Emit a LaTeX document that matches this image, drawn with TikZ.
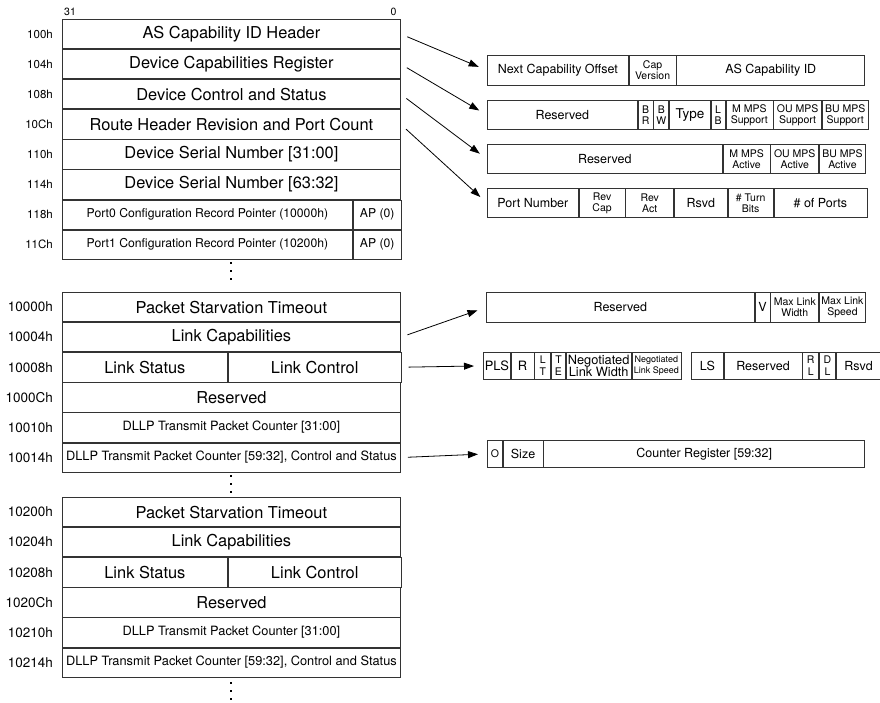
\documentclass[tikz,border=0pt]{standalone}
\usepackage{fontspec}
\setmainfont{TeX Gyre Heros}
\usetikzlibrary{positioning,arrows.meta}

\begin{document}
\begin{tikzpicture}[x=1pt, y=-1pt,
field/.style={rectangle, draw=black!80, line width=0.8pt, anchor=north west, inner sep=0pt, align=center, minimum width=338pt, minimum height=29.3pt, font=\fontsize{16.4}{18}\selectfont},
smallfield/.style={field, font=\fontsize{12.2}{14}\selectfont},
dllpfield/.style={field, font=\fontsize{12.8}{14}\selectfont},
addr/.style={inner sep=0pt, font=\fontsize{13.5}{15}\selectfont},
regbit/.style={rectangle, draw=black!80, line width=0.7pt, anchor=north west, inner sep=0pt, align=center, minimum height=29.5pt, font=\fontsize{12.5}{13}\selectfont},
tinybit/.style={regbit, font=\fontsize{10.5}{11.5}\selectfont},
arr/.style={-{Triangle[length=10pt, width=7pt]}, line width=0.8pt, shorten <=7pt, shorten >=9pt},
]
    \useasboundingbox (0,0) rectangle (880,703);

    % capability header block
    \node[font=\fontsize{10.5}{12}\selectfont, inner sep=0pt] (msb) at (70,11.5) {31};
    \node[font=\fontsize{10.5}{12}\selectfont, inner sep=0pt] (lsb) at (393.5,11.5) {0};
    \node[field] (r100) at (62,19) {AS Capability ID Header};
    \node[field] (r104) at (r100.south west) {Device Capabilities Register};
    \node[field] (r108) at (r104.south west) {Device Control and Status};
    \node[field] (r10c) at (r108.south west) {Route Header Revision and Port Count};
    \node[field] (r110) at (r10c.south west) {Device Serial Number [31:00]};
    \node[field] (r114) at (r110.south west) {Device Serial Number [63:32]};
    \node[smallfield, minimum width=290pt] (r118) at (r114.south west) {Port0 Configuration Record Pointer (10000h)};
    \node[smallfield, minimum width=48pt] (r118ap) at (r118.north east) {AP (0)};
    \node[smallfield, minimum width=290pt] (r11c) at (r118.south west) {Port1 Configuration Record Pointer (10200h)};
    \node[smallfield, minimum width=48pt] (r11cap) at (r11c.north east) {AP (0)};
    \node[addr, font=\fontsize{11.5}{13}\selectfont, left=9pt of r100] (a100) {100h};
    \node[addr, font=\fontsize{11.5}{13}\selectfont, left=9pt of r104] (a104) {104h};
    \node[addr, font=\fontsize{11.5}{13}\selectfont, left=9pt of r108] (a108) {108h};
    \node[addr, font=\fontsize{11.5}{13}\selectfont, left=9pt of r10c] (a10c) {10Ch};
    \node[addr, font=\fontsize{11.5}{13}\selectfont, left=9pt of r110] (a110) {110h};
    \node[addr, font=\fontsize{11.5}{13}\selectfont, left=9pt of r114] (a114) {114h};
    \node[addr, font=\fontsize{11.5}{13}\selectfont, left=9pt of r118] (a118) {118h};
    \node[addr, font=\fontsize{11.5}{13}\selectfont, left=9pt of r11c] (a11c) {11Ch};

    % port0 configuration record
    \node[field] (p0timeout) at (62,292) {Packet Starvation Timeout};
    \node[field] (p0lcap) at (p0timeout.south west) {Link Capabilities};
    \node[field, minimum width=165pt] (p0lstat) at (p0lcap.south west) {Link Status};
    \node[field, minimum width=173pt] (p0lctrl) at (p0lstat.north east) {Link Control};
    \node[field] (p0rsvd) at (p0lstat.south west) {Reserved};
    \node[dllpfield] (p0cnt) at (p0rsvd.south west) {DLLP Transmit Packet Counter [31:00]};
    \node[dllpfield] (p0cntst) at (p0cnt.south west) {DLLP Transmit Packet Counter [59:32], Control and Status};
    \node[addr, left=9pt of p0timeout] (a10000) {10000h};
    \node[addr, left=9pt of p0lcap] (a10004) {10004h};
    \node[addr, left=9pt of p0lstat] (a10008) {10008h};
    \node[addr, left=9pt of p0rsvd] (a1000c) {1000Ch};
    \node[addr, left=9pt of p0cnt] (a10010) {10010h};
    \node[addr, left=9pt of p0cntst] (a10014) {10014h};

    % port1 configuration record
    \node[field] (p1timeout) at (62,497) {Packet Starvation Timeout};
    \node[field] (p1lcap) at (p1timeout.south west) {Link Capabilities};
    \node[field, minimum width=165pt] (p1lstat) at (p1lcap.south west) {Link Status};
    \node[field, minimum width=173pt] (p1lctrl) at (p1lstat.north east) {Link Control};
    \node[field] (p1rsvd) at (p1lstat.south west) {Reserved};
    \node[dllpfield] (p1cnt) at (p1rsvd.south west) {DLLP Transmit Packet Counter [31:00]};
    \node[dllpfield] (p1cntst) at (p1cnt.south west) {DLLP Transmit Packet Counter [59:32], Control and Status};
    \node[addr, left=9pt of p1timeout] (a10200) {10200h};
    \node[addr, left=9pt of p1lcap] (a10204) {10204h};
    \node[addr, left=9pt of p1lstat] (a10208) {10208h};
    \node[addr, left=9pt of p1rsvd] (a1020c) {1020Ch};
    \node[addr, left=9pt of p1cnt] (a10210) {10210h};
    \node[addr, left=9pt of p1cntst] (a10214) {10214h};

    % continuation dots
    \foreach \y in {263,271,279,476,484,492,683,691,699}
        \fill (229.8,\y-1.2) rectangle (232.2,\y+1.2);

    % capability ID header
    \node[regbit, minimum height=30pt, minimum width=141pt] (nextcap) at (487,55) {Next Capability Offset};
    \node[tinybit, minimum height=30pt, minimum width=47pt] (capver) at (nextcap.north east) {Cap\\Version};
    \node[regbit, minimum height=30pt, minimum width=188pt] (asid) at (capver.north east) {AS Capability ID};

    % device capabilities
    \node[regbit, minimum width=150pt] (rsv2) at (487,100) {Reserved};
    \node[tinybit, minimum width=15pt] (br) at (rsv2.north east) {B\\R};
    \node[tinybit, minimum width=15pt] (bw) at (br.north east) {B\\W};
    \node[regbit, minimum width=41pt, font=\fontsize{13.5}{14}\selectfont] (type) at (bw.north east) {Type};
    \node[tinybit, minimum width=14pt] (lb) at (type.north east) {L\\B};
    \node[tinybit, minimum width=47pt] (mmps) at (lb.north east) {M MPS\\Support};
    \node[tinybit, minimum width=48pt] (oumps) at (mmps.north east) {OU MPS\\Support};
    \node[tinybit, minimum width=46pt] (bumps) at (oumps.north east) {BU MPS\\Support};

    % device control and status
    \node[regbit, minimum width=235pt] (rsv3) at (487,144) {Reserved};
    \node[tinybit, minimum width=47pt] (mmpsa) at (rsv3.north east) {M MPS\\Active};
    \node[tinybit, minimum width=48pt] (oumpsa) at (mmpsa.north east) {OU MPS\\Active};
    \node[tinybit, minimum width=46pt] (bumpsa) at (oumpsa.north east) {BU MPS\\Active};

    % route header revision and port count
    \node[regbit, minimum width=91pt] (portnum) at (487,188) {Port Number};
    \node[tinybit, minimum width=46pt] (revcap) at (portnum.north east) {Rev\\Cap};
    \node[tinybit, minimum width=48pt] (revact) at (revcap.north east) {Rev\\Act};
    \node[regbit, minimum width=53pt] (rsvd4) at (revact.north east) {Rsvd};
    \node[tinybit, minimum width=45pt] (turnbits) at (rsvd4.north east) {\# Turn\\Bits};
    \node[regbit, minimum width=93pt] (nports) at (turnbits.north east) {\# of Ports};

    % link capabilities
    \node[regbit, minimum height=30pt, minimum width=268pt] (rsv5) at (486,292) {Reserved};
    \node[regbit, minimum height=30pt, minimum width=15pt] (vbit) at (rsv5.north east) {V};
    \node[tinybit, minimum height=30pt, minimum width=48pt] (mlw) at (vbit.north east) {Max Link\\Width};
    \node[tinybit, minimum height=30pt, minimum width=46pt] (mls) at (mlw.north east) {Max Link\\Speed};

    % link status and link control
    \node[regbit, minimum height=27pt, minimum width=27pt, font=\fontsize{12.9}{13}\selectfont] (pls) at (483,352) {PLS};
    \node[regbit, minimum height=27pt, minimum width=23pt, font=\fontsize{12.9}{13}\selectfont] (rbit) at (pls.north east) {R};
    \node[tinybit, minimum height=27pt, minimum width=16pt] (lt) at (rbit.north east) {L\\T};
    \node[tinybit, minimum height=27pt, minimum width=14pt] (te) at (lt.north east) {T\\E};
    \node[regbit, minimum height=27pt, minimum width=65pt, font=\fontsize{12.8}{12.5}\selectfont] (nlw) at (te.north east) {Negotiated\\Link Width};
    \node[regbit, minimum height=27pt, minimum width=49pt, font=\fontsize{9}{10.5}\selectfont] (nls) at (nlw.north east) {Negotiated\\Link Speed};
    \node[regbit, minimum height=27pt, minimum width=32pt] (ls) at (691,352) {LS};
    \node[regbit, minimum height=27pt, minimum width=78pt] (rsv6) at (ls.north east) {Reserved};
    \node[tinybit, minimum height=27pt, minimum width=16pt] (rl) at (rsv6.north east) {R\\L};
    \node[tinybit, minimum height=27pt, minimum width=16pt] (dl) at (rl.north east) {D\\L};
    \node[regbit, minimum height=27pt, minimum width=45pt] (rsvd6) at (dl.north east) {Rsvd};

    % counter control and status
    \node[tinybit, minimum height=27pt, minimum width=15pt] (obit) at (487,440) {O};
    \node[regbit, minimum height=27pt, minimum width=40pt] (size) at (obit.north east) {Size};
    \node[regbit, minimum height=27pt, minimum width=321pt] (cntreg) at (size.north east) {Counter Register [59:32]};

    \draw[arr] (r100.east) -- (nextcap.west);
    \draw[arr] (r104.east) -- (rsv2.west);
    \draw[arr] (r108.east) -- (rsv3.west);
    \draw[arr] (r10c.east) -- (portnum.west);
    \draw[arr] (p0lcap.east) -- (rsv5.west);
    \draw[arr] (p0lctrl.east) -- (pls.west);
    \draw[arr] (p0cntst.east) -- (obit.west);
\end{tikzpicture}
\end{document}
